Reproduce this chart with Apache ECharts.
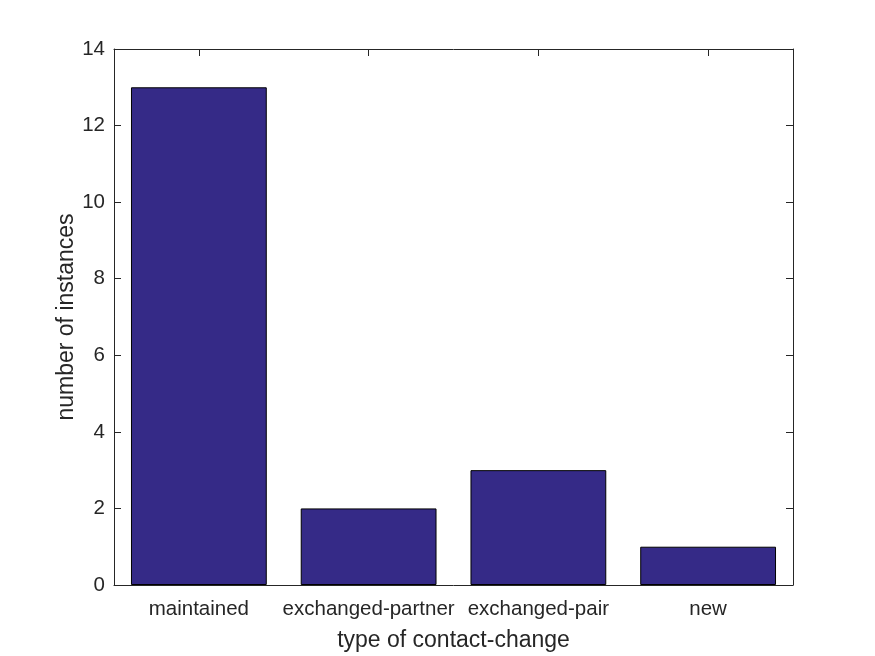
<!DOCTYPE html>
<html><head><meta charset="utf-8">
<script src="https://cdn.jsdelivr.net/npm/echarts@6/dist/echarts.min.js"></script>
<style>html,body{margin:0;padding:0;background:#fff}#c{width:875px;height:656px}</style>
</head><body><div id="c"></div>
<script>
const categories = ['maintained', 'exchanged-partner', 'exchanged-pair', 'new'];
const counts = [13, 2, 3, 1];
const yTicks = [0, 2, 4, 6, 8, 10, 12, 14];

const font = 'Liberation Sans, Arial, sans-serif';
const axisLine = { show: true, onZero: false, lineStyle: { color: '#262626', width: 1 } };
const tick = { show: true, inside: true, length: 7, lineStyle: { color: '#262626' } };
const chart = echarts.init(document.getElementById('c'), null, { renderer: 'canvas' });
chart.setOption({
  backgroundColor: '#fff',
  animation: false,
  grid: { left: 114, right: 82, top: 49, bottom: 71, containLabel: false, outerBoundsMode: 'none' },
  xAxis: [{
    type: 'category', data: categories, position: 'bottom',
    axisLine: axisLine,
    axisTick: Object.assign({ alignWithLabel: true, interval: 0 }, tick),
    axisLabel: { color: '#262626', fontFamily: font, fontSize: 20.5, margin: 14, interval: 0, hideOverlap: false },
    name: 'type of contact-change', nameLocation: 'middle', nameGap: 44,
    nameTextStyle: { color: '#262626', fontFamily: font, fontSize: 23 }
  }, {
    type: 'category', data: categories, position: 'top',
    axisLine: axisLine,
    axisTick: Object.assign({ alignWithLabel: true, interval: 0 }, tick),
    axisLabel: { show: false }
  }],
  yAxis: [{
    type: 'value', min: yTicks[0], max: yTicks[yTicks.length - 1], interval: 2, position: 'left',
    axisLine: axisLine,
    axisTick: tick,
    splitLine: { show: false },
    axisLabel: { color: '#262626', fontFamily: font, fontSize: 20.5, margin: 9 },
    name: 'number of instances', nameLocation: 'middle', nameGap: 36, nameRotate: 90, nameMoveOverlap: false,
    nameTextStyle: { color: '#262626', fontFamily: font, fontSize: 23 }
  }, {
    type: 'value', min: yTicks[0], max: yTicks[yTicks.length - 1], interval: 2, position: 'right',
    axisLine: axisLine,
    axisTick: tick,
    splitLine: { show: false },
    axisLabel: { show: false }
  }],
  series: [{
    type: 'bar', data: counts, xAxisIndex: 0, yAxisIndex: 0,
    barWidth: '80%',
    itemStyle: { color: '#352a87', borderColor: '#000', borderWidth: 1 }
  }]
});
</script></body></html>
